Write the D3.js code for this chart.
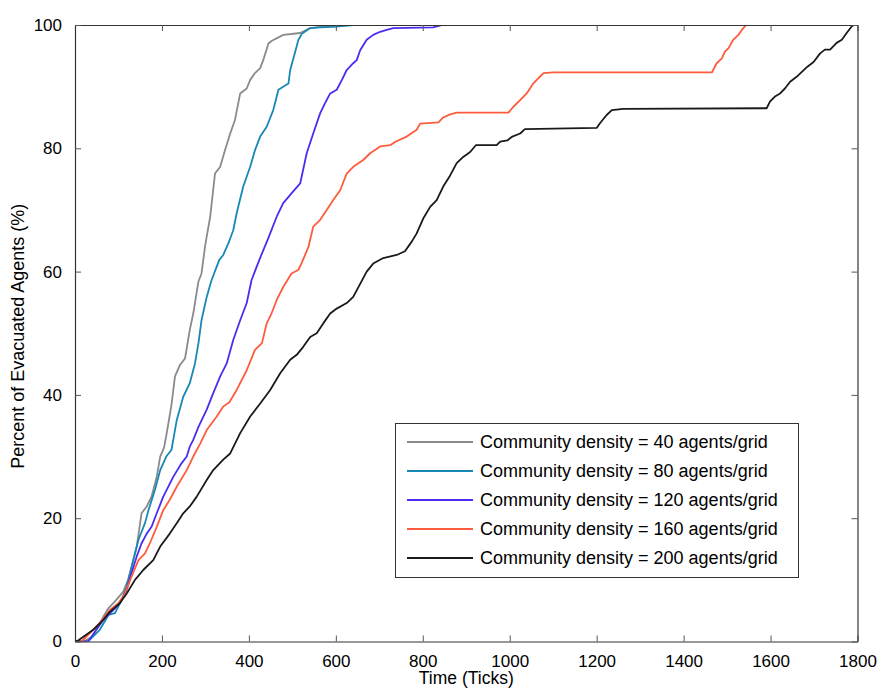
<!DOCTYPE html>
<html><head><meta charset="utf-8">
<script src="https://cdn.jsdelivr.net/npm/d3@7"></script>
<style>body{margin:0;background:#fff}svg{display:block}text{font-family:"Liberation Sans",Arial,Helvetica,sans-serif;fill:#000}</style>
</head><body><div id="chart"></div>
<script>
const seriesNames = ["Community density = 40 agents/grid","Community density = 80 agents/grid","Community density = 120 agents/grid","Community density = 160 agents/grid","Community density = 200 agents/grid"];
const seriesColors = ["#8a8a8a","#1788b5","#4a2df2","#ff5b3d","#1a1a1a"];
const xTicks = [0,200,400,600,800,1000,1200,1400,1600,1800];
const yTicks = [0,20,40,60,80,100];

const d40 = [[0,0],[20,0],[40,0.8],[65,4],[77,5.4],[92,6.5],[111,8.1],[122,10],[130,12.1],[142,15.4],[153,20.8],[165,21.9],[176,23.5],[188,26.7],[196,30],[205,31.5],[211,33.8],[222,38.4],[230,43],[241,44.8],[253,45.9],[264,50.5],[272,53.2],[284,58.4],[291,59.7],[299,64],[303,65.7],[311,68.9],[322,75.9],[334,77],[345,79.7],[357,82.4],[368,84.6],[380,88.9],[395,89.7],[403,91.1],[414,92.2],[426,93],[433,94.3],[445,97],[452,97.4],[479,98.4],[518,98.7],[541,99.5],[564,99.7],[620,100]];
const d80 = [[0,0],[30,0],[57,1.9],[77,4.3],[92,4.6],[107,6.7],[119,8.9],[134,13.2],[146,16.5],[161,19.2],[169,21.3],[184,24.6],[196,27.8],[210,30],[222,31.1],[234,35.9],[249,39.7],[264,41.9],[276,45.1],[284,48.4],[291,52.1],[303,55.9],[314,58.6],[326,60.8],[332,61.9],[341,62.7],[353,64.6],[364,66.7],[372,69.5],[387,73.8],[403,77],[414,79.7],[426,81.9],[441,83.5],[456,86.2],[468,89.5],[479,90],[491,90.5],[495,92.7],[502,94.5],[514,97.6],[522,98.6],[541,99.5],[564,99.6],[594,99.7],[640,100]];
const d120 = [[0,0],[30,0],[65,3.5],[88,5.1],[103,6.2],[119,8.4],[130,11.1],[142,13.8],[153,15.9],[165,17.5],[176,18.6],[188,20.8],[203,23.5],[226,26.7],[245,28.9],[257,30],[264,31.6],[272,32.7],[284,34.8],[303,37.6],[318,40.3],[334,43],[349,45.1],[364,48.9],[380,52.1],[395,54.9],[406,58.6],[418,60.8],[428,62.6],[444,65.3],[464,68.9],[479,71.1],[498,72.7],[518,74.3],[533,79.2],[548,82.4],[564,85.7],[575,87.3],[587,88.9],[602,89.5],[614,91.1],[625,92.7],[640,93.8],[648,94.3],[656,95.9],[671,97.6],[686,98.4],[702,98.9],[717,99.2],[732,99.5],[824,99.6],[845,100]];
const d160 = [[0,0],[15,0],[57,3],[80,5.1],[100,6.2],[115,7.8],[130,10.5],[146,13.2],[161,14.3],[172,15.9],[188,18.6],[203,21.3],[218,23],[234,25.1],[257,27.8],[272,30],[288,32.1],[303,34.3],[326,36.5],[341,38.1],[355,38.8],[372,40.8],[395,44],[414,47.3],[430,48.4],[441,51.6],[452,53.2],[464,55.4],[479,57.5],[498,59.7],[514,60.3],[522,61.5],[537,64],[548,67.3],[564,68.4],[579,70],[594,71.6],[610,73.2],[625,75.9],[640,77],[663,78.1],[679,79.2],[702,80.3],[725,80.5],[738,81.1],[763,81.9],[786,83],[794,84],[836,84.2],[847,85],[863,85.5],[878,85.8],[997,85.8],[1008,86.7],[1024,87.8],[1039,88.9],[1054,90.5],[1066,91.4],[1078,92.2],[1100,92.3],[1465,92.3],[1468,92.7],[1476,93.8],[1488,94.6],[1495,95.7],[1503,96.2],[1514,97.6],[1526,98.4],[1534,99.2],[1541,99.8],[1545,100]];
const d200 = [[0,0],[8,0.2],[42,1.9],[65,3.5],[80,4.8],[103,6.2],[119,7.8],[138,10],[157,11.6],[180,13.2],[196,15.4],[218,17.5],[234,19.2],[249,20.8],[264,21.9],[280,23.5],[303,26.2],[318,27.8],[341,29.5],[357,30.5],[380,33.8],[403,36.5],[426,38.6],[449,40.8],[472,43.5],[495,45.7],[510,46.5],[525,47.8],[541,49.4],[556,50],[571,51.6],[587,53.2],[602,54],[625,54.9],[640,55.9],[656,58],[671,60],[686,61.3],[709,62.2],[740,62.7],[759,63.3],[775,64.9],[786,66.2],[801,68.6],[817,70.5],[832,71.6],[847,73.8],[863,75.6],[878,77.6],[893,78.6],[909,79.4],[922,80.5],[970,80.5],[978,81.1],[995,81.3],[1006,81.9],[1024,82.4],[1035,83.1],[1100,83.2],[1200,83.3],[1208,84.1],[1223,85.4],[1235,86.2],[1261,86.4],[1591,86.5],[1599,87.6],[1610,88.4],[1622,88.9],[1633,89.7],[1645,90.8],[1660,91.6],[1672,92.4],[1684,93.2],[1699,94],[1714,95.4],[1725,96],[1737,96],[1752,97.1],[1764,97.6],[1775,98.7],[1787,99.8],[1792,100]];
const seriesData = [d40,d80,d120,d160,d200];

const W = 880, H = 690;
const m = {left:75, right:22.5, top:25, bottom:48.5};
const svg = d3.select("#chart").append("svg").attr("width",W).attr("height",H);
const x = d3.scaleLinear().domain([0,1800]).range([m.left, W-m.right]);
const y = d3.scaleLinear().domain([0,100]).range([H-m.bottom, m.top]);

svg.append("clipPath").attr("id","clip").append("rect")
  .attr("x",x(0)).attr("y",y(100)).attr("width",x(1800)-x(0)).attr("height",y(0)-y(100));

const line = d3.line().x(d=>x(d[0])).y(d=>y(d[1]));
const g = svg.append("g").attr("clip-path","url(#clip)");
seriesData.forEach((d,i)=>{
  g.append("path").datum(d).attr("d",line).attr("fill","none")
   .attr("stroke",seriesColors[i]).attr("stroke-width",1.8).attr("stroke-linejoin","round");
});

const axisColor = "#333";
const fs = "17px";
const fmt = d3.format("d");
const xb = svg.append("g").attr("transform",`translate(0,${y(0)})`)
  .call(d3.axisBottom(x).tickValues(xTicks).tickFormat(fmt).tickSize(-6).tickPadding(13).tickSizeOuter(0));
const xt = svg.append("g").attr("transform",`translate(0,${y(100)})`)
  .call(d3.axisTop(x).tickValues(xTicks).tickSize(-6).tickFormat("").tickSizeOuter(0));
const yl = svg.append("g").attr("transform",`translate(${x(0)},0)`)
  .call(d3.axisLeft(y).tickValues(yTicks).tickFormat(fmt).tickSize(-6).tickPadding(13).tickSizeOuter(0));
const yr = svg.append("g").attr("transform",`translate(${x(1800)},0)`)
  .call(d3.axisRight(y).tickValues(yTicks).tickSize(-6).tickFormat("").tickSizeOuter(0));
[xb,xt,yl,yr].forEach(a=>{
  a.select(".domain").attr("stroke",axisColor).attr("stroke-width",1.2);
  a.selectAll(".tick line").attr("stroke","#555");
  a.selectAll("text").style("font-size",fs).attr("fill","#000").style("font-family",'"Liberation Sans",Arial,sans-serif');
});

svg.append("text").attr("x",(x(0)+x(1800))/2).attr("y",684).attr("text-anchor","middle")
  .style("font-size","17.5px").text("Time (Ticks)");
svg.append("text").attr("transform",`translate(24,${(y(0)+y(100))/2 + 3}) rotate(-90)`)
  .attr("text-anchor","middle").style("font-size","18px").text("Percent of Evacuated Agents (%)");

const lg = svg.append("g");
lg.append("rect").attr("x",395.5).attr("y",423.5).attr("width",403).attr("height",154)
  .attr("fill","#fff").attr("stroke","#333").attr("stroke-width",1);
seriesNames.forEach((n,i)=>{
  const yy = 442 + i*29;
  lg.append("line").attr("x1",407).attr("x2",473).attr("y1",yy).attr("y2",yy)
    .attr("stroke",seriesColors[i]).attr("stroke-width",1.8);
  lg.append("text").attr("x",480).attr("y",yy).attr("dy","0.35em").style("font-size","18px").text(n);
});
</script></body></html>
